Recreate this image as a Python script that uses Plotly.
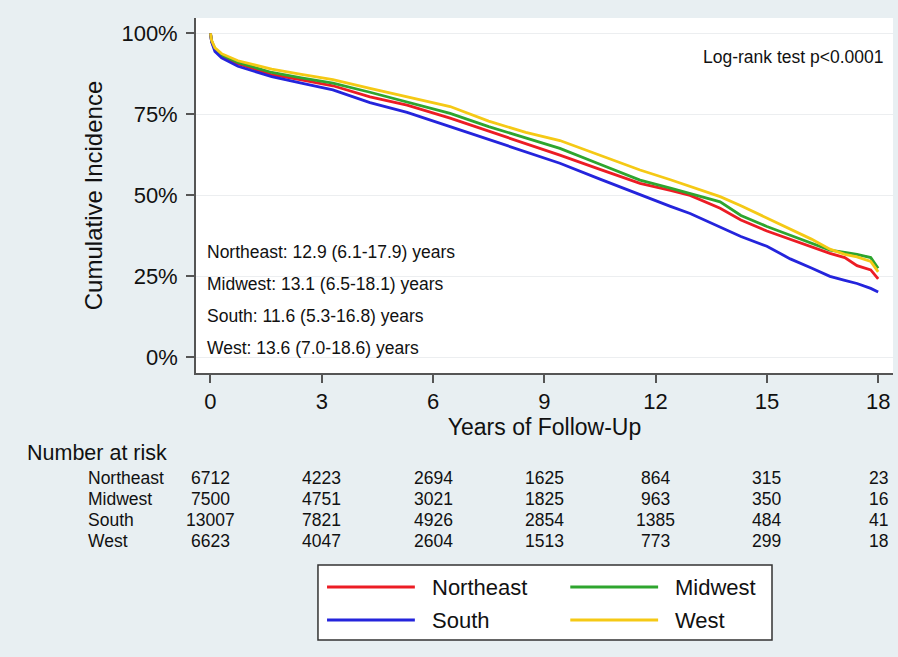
import plotly.graph_objects as go

# ---------------- data ----------------
years = [0, 0.03, 0.12, 0.3, 0.74, 1.65, 2.45, 3.3, 4.3, 5.3, 6.46, 7.5, 8.5, 9.42, 10.5,
         11.58, 12.4, 12.93, 13.74, 14.3, 15.0, 15.63, 16.2, 16.7, 17.1, 17.43, 17.8, 18.0]
northeast = [100, 97.5, 95.0, 93.0, 90.6, 87.2, 85.6, 83.8, 80.4, 77.8, 73.8, 69.8, 66.0, 62.4, 58.0,
             53.7, 51.5, 50.0, 46.0, 42.4, 39.0, 36.5, 34.1, 32.1, 30.8, 28.3, 27.0, 24.2]
midwest = [100, 97.6, 95.2, 93.3, 91.0, 87.9, 86.2, 84.6, 81.8, 78.8, 75.3, 71.2, 67.6, 64.5, 59.6,
           54.7, 52.2, 50.6, 48.0, 43.8, 40.4, 37.7, 35.3, 33.1, 32.4, 31.8, 30.8, 27.5]
south = [100, 97.3, 94.4, 92.4, 89.8, 86.6, 84.6, 82.5, 78.6, 75.6, 71.2, 67.2, 63.3, 59.9, 55.0,
         50.1, 46.6, 44.4, 40.3, 37.3, 34.3, 30.4, 27.6, 25.0, 23.8, 22.8, 21.3, 20.2]
west = [100, 97.8, 95.5, 93.7, 91.5, 88.9, 87.3, 85.7, 83.0, 80.4, 77.4, 72.9, 69.4, 66.9, 62.3,
        57.8, 54.8, 52.7, 49.6, 46.8, 43.0, 39.7, 36.5, 33.4, 31.8, 31.0, 29.6, 26.4]

regions = ["Northeast", "Midwest", "South", "West"]
colors = ["#ec1c24", "#2ea52e", "#2424dc", "#f5c915"]
series = [northeast, midwest, south, west]

medians = [
    "Northeast: 12.9 (6.1-17.9) years",
    "Midwest: 13.1 (6.5-18.1) years",
    "South: 11.6 (5.3-16.8) years",
    "West: 13.6 (7.0-18.6) years",
]

risk_times = [0, 3, 6, 9, 12, 15, 18]
risk_northeast = [6712, 4223, 2694, 1625, 864, 315, 23]
risk_midwest = [7500, 4751, 3021, 1825, 963, 350, 16]
risk_south = [13007, 7821, 4926, 2854, 1385, 484, 41]
risk_west = [6623, 4047, 2604, 1513, 773, 299, 18]
risk_rows = [risk_northeast, risk_midwest, risk_south, risk_west]

y_ticks = [0, 25, 50, 75, 100]
y_ticktext = ["0%", "25%", "50%", "75%", "100%"]
x_ticks = [0, 3, 6, 9, 12, 15, 18]

FONT = "Liberation Sans, Arial, Helvetica, sans-serif"
BG = "#e8eff2"
TXT = "#111111"

fig = go.Figure()
for name, col, vals in zip(regions, colors, series):
    fig.add_trace(go.Scatter(x=years, y=vals, mode="lines", name=name,
                             line=dict(color=col, width=2.8), showlegend=False))

annotations = []
annotations.append(dict(text="Log-rank test p<0.0001", xref="paper", yref="paper",
                        x=0.9885, y=0.890, xanchor="right", yanchor="middle",
                        showarrow=False, font=dict(size=17.5, color=TXT, family=FONT)))
med_y = [0.341, 0.251, 0.161, 0.070]
for t, yy in zip(medians, med_y):
    annotations.append(dict(text=t, xref="paper", yref="paper", x=0.013, y=yy,
                            xanchor="left", yanchor="middle", showarrow=False,
                            font=dict(size=17.5, color=TXT, family=FONT)))

# number at risk table
annotations.append(dict(text="Number at risk", xref="paper", yref="paper", x=-0.245, y=-0.225,
                        xanchor="left", yanchor="middle", showarrow=False,
                        font=dict(size=21.5, color=TXT, family=FONT)))
row_y = [-0.296, -0.355, -0.414, -0.473]
for name, row, yy in zip(regions, risk_rows, row_y):
    annotations.append(dict(text=name, xref="paper", yref="paper", x=-0.158, y=yy,
                            xanchor="left", yanchor="middle", showarrow=False,
                            font=dict(size=17.5, color=TXT, family=FONT)))
    for t, v in zip(risk_times, row):
        annotations.append(dict(text=str(v), xref="x", yref="paper", x=t, y=yy,
                                xanchor="center", yanchor="middle", showarrow=False,
                                font=dict(size=17.5, color=TXT, family=FONT)))

# legend (manual, two columns)
shapes = [dict(type="rect", xref="paper", yref="paper", x0=0.175, x1=0.8264, y0=-0.752, y1=-0.541,
               line=dict(color="#333333", width=1.5), fillcolor="white", layer="below")]
leg_pos = [(0.188, -0.603), (0.537, -0.603), (0.188, -0.696), (0.537, -0.696)]
for name, col, (lx, ly) in zip(regions, colors, leg_pos):
    shapes.append(dict(type="line", xref="paper", yref="paper", x0=lx, x1=lx + 0.126, y0=ly, y1=ly,
                       line=dict(color=col, width=3)))
    annotations.append(dict(text=name, xref="paper", yref="paper", x=lx + 0.148, y=ly,
                            xanchor="left", yanchor="middle", showarrow=False,
                            font=dict(size=22, color=TXT, family=FONT)))

fig.update_layout(
    width=898, height=657,
    margin=dict(l=196, r=5, t=18, b=284),
    paper_bgcolor=BG, plot_bgcolor="white",
    font=dict(family=FONT, color=TXT),
    annotations=annotations, shapes=shapes,
    xaxis=dict(range=[-0.39, 18.4], tickvals=x_ticks, showgrid=False, zeroline=False,
               showline=True, linecolor="#555555", linewidth=1.8,
               ticks="outside", ticklen=8, tickwidth=1.8, tickcolor="#555555",
               tickfont=dict(size=22, color=TXT, family=FONT),
               title=dict(text="Years of Follow-Up", font=dict(size=23, color=TXT, family=FONT), standoff=4)),
    yaxis=dict(range=[-4.8, 104.7], tickvals=y_ticks, ticktext=y_ticktext, showgrid=True,
               gridcolor="#eceef0", gridwidth=1, zeroline=False,
               showline=True, linecolor="#555555", linewidth=1.8,
               ticks="outside", ticklen=8, tickwidth=1.8, tickcolor="#555555",
               tickfont=dict(size=22, color=TXT, family=FONT), ticklabelstandoff=4,
               title=dict(text="Cumulative Incidence", font=dict(size=24, color=TXT, family=FONT), standoff=12)),
)

fig.write_html("out.html", config={"displayModeBar": False},
               post_script="document.body.style.margin='0px';document.body.style.background='" + BG + "';")
